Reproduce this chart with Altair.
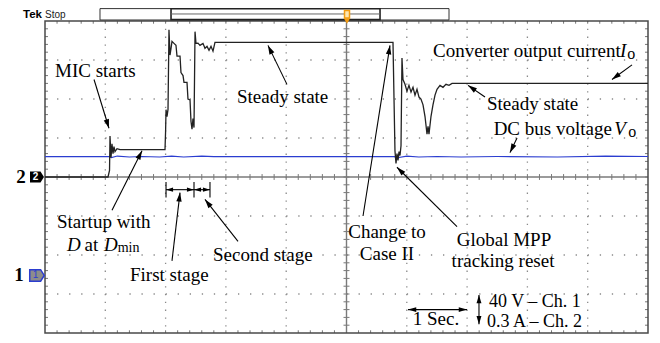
import math
import altair as alt
import pandas as pd
import numpy as np

# ---------------- traces ----------------
# time since left edge of the screen, seconds (1 s/div)
time_s = [0.000, 1.045, 1.070, 1.078, 1.095, 1.111, 1.128, 1.144, 1.161, 1.194,
          1.244, 1.990, 2.000, 2.007, 2.023, 2.040, 2.056, 2.073, 2.090, 2.106,
          2.139, 2.172, 2.189, 2.239, 2.255, 2.289, 2.305, 2.355, 2.371, 2.405,
          2.421, 2.438, 2.454, 2.471, 2.488, 2.504, 2.537, 2.570, 2.620, 2.653,
          2.687, 2.720, 2.753, 2.786, 2.819, 5.771, 5.788, 5.804, 5.821, 5.837,
          5.854, 5.871, 5.887, 5.904, 5.920, 5.937, 5.970, 6.003, 6.036, 6.070,
          6.103, 6.136, 6.169, 6.202, 6.235, 6.269, 6.302, 6.335, 6.352, 6.368,
          6.401, 6.434, 6.468, 6.501, 6.551, 6.600, 6.650, 6.700, 6.750, 10.000]
# converter output current Io, A (channel 2, 0.3 A/div)
current_A = [0, 0, 0.05, 0.315, 0.15, 0.255, 0.18, 0.233, 0.195, 0.218,
             0.21, 0.21, 0.353, 0.518, 0.465, 0.52, 1.133, 0.938, 0.99, 1.043,
             1.028, 1.013, 0.93, 0.93, 0.803, 0.78, 0.728, 0.728, 0.60, 0.593,
             0.428, 0.368, 0.45, 0.38, 1.118, 1.028, 1.03, 1.013, 1.028, 0.99,
             1.005, 0.975, 1.005, 0.968, 1.035, 1.035, 0.6, 0.2, 0.105, 0.18,
             0.128, 0.195, 0.165, 0.24, 0.915, 0.75, 0.713, 0.66, 0.705, 0.653,
             0.69, 0.63, 0.675, 0.615, 0.6, 0.555, 0.465, 0.33, 0.39, 0.33,
             0.465, 0.555, 0.63, 0.675, 0.705, 0.69, 0.713, 0.705, 0.72, 0.72]
# DC bus voltage Vo, V (channel 1, 40 V/div)
volt_time_s = [0, 1.07, 1.10, 1.20, 1.40, 1.60, 1.90, 2.10, 2.30, 2.60, 2.80,
               5.80, 5.83, 5.87, 6.00, 6.20, 6.50, 6.90, 7.50, 8.50, 9.30, 10.0]
voltage_V = [122, 122, 121, 122.5, 121.5, 122, 121.5, 122.5, 121.5, 122.5, 122,
             122, 119, 121, 122.5, 121.5, 122, 121.5, 122, 121.5, 122.5, 122]

AMP_PER_DIV = 0.3
VOLT_PER_DIV = 40
CH1_LEVEL = -2.525   # ground marker of channel 1 (div)
CH2_LEVEL = 0.0      # ground marker of channel 2 (div)

# ---------------- annotations (time s, vertical div) ----------------
ann_left_txt = ["MIC starts", "Steady state", "Startup with", "at", "First stage",
                "Second stage", "Converter output current", "Steady state",
                "DC bus voltage"]
ann_left_t = [0.166, 3.184, 0.199, 0.655, 1.410, 2.786, 6.434, 7.330, 7.440]
ann_left_d = [2.725, 2.05, -1.15, -1.75, -2.5, -2.0, 3.225, 1.875, 1.225]

scale_txt = ["40 V \u2013 Ch. 1", "0.3 A \u2013 Ch. 2"]
scale_t = [7.363, 7.330]
scale_d = [-3.20, -3.72]

ann_mid_txt = ["Change to", "Case II", "Global MPP", "tracking reset", "1 Sec."]
ann_mid_t = [5.672, 5.672, 7.612, 7.596, 6.484]
ann_mid_d = [-1.4, -1.97, -1.625, -2.15, -3.64]

ann_ital_txt = ["D", "D", "I", "V"]
ann_ital_t = [0.365, 0.978, 9.536, 9.440]
ann_ital_d = [-1.75, -1.75, 3.225, 1.225]

ann_sub_txt = ["min", "o", "o"]
ann_sub_t = [1.205, 9.655, 9.672]
ann_sub_d = [-1.82, 3.15, 1.15]
ann_sub_size = [14, 16, 16]

# arrows: start t, start d, tip t, tip d, double-headed, head size
arrows = [
    (0.813, 2.5, 1.061, 1.25, False, 36),
    (4.013, 2.375, 3.698, 3.375, False, 36),
    (1.111, -0.85, 1.609, 0.675, False, 36),
    (2.106, -2.15, 2.239, -0.4, False, 36),
    (3.201, -1.65, 2.653, -0.575, False, 36),
    (9.735, 2.875, 9.403, 2.5, False, 36),
    (7.297, 2.05, 7.015, 2.35, False, 36),
    (7.828, 1.0, 7.711, 0.625, False, 36),
    (5.274, -1.0, 5.721, 3.375, False, 36),
    (6.833, -1.275, 5.837, 0.25, False, 36),
    (6.020, -3.4, 6.998, -3.4, True, 30),
    (7.197, -3.025, 7.197, -3.775, True, 30),
    (2.007, -0.325, 2.471, -0.325, True, 22),
    (2.471, -0.325, 2.736, -0.325, True, 22),
]
stage_tick_t = [2.007, 2.471, 2.736]

# ---------------- geometry ----------------
W, H = 644, 326
PX_X, PX_Y = 60.3, 39.0
X_DOM = [-37 / PX_X, (W - 37) / PX_X]
Y_DOM = [-4.0 - 1 / PX_Y, 4.0 + 13 / PX_Y]

SERIF = "Liberation Serif"
SANS = "Liberation Sans"
BLUE = "#2b3dd0"

xs = alt.Scale(domain=X_DOM, nice=False, zero=False)
ys = alt.Scale(domain=Y_DOM, nice=False, zero=False)


def X(f="t"):
    return alt.X(f"{f}:Q", scale=xs, axis=None)


def Y(f="d"):
    return alt.Y(f"{f}:Q", scale=ys, axis=None)


def rule_layer(df, **kw):
    enc = dict(x=X("t"), y=Y("d"))
    if "t2" in df.columns:
        enc["x2"] = alt.X2("t2:Q")
    if "d2" in df.columns:
        enc["y2"] = alt.Y2("d2:Q")
    return alt.Chart(df).mark_rule(**kw).encode(**enc)


def text_layer(df, **kw):
    enc = dict(x=X("t"), y=Y("d"), text="txt:N")
    if "sz" in df.columns:
        enc["size"] = alt.Size("sz:Q", scale=None)
    return alt.Chart(df).mark_text(**kw).encode(**enc)


def rect_layer(df, **kw):
    return alt.Chart(df).mark_rect(**kw).encode(
        x=X("t"), x2=alt.X2("t2:Q"), y=Y("d"), y2=alt.Y2("d2:Q"))


layers = []

# graticule
grid_v = pd.DataFrame({"t": [1, 2, 3, 4, 6, 7, 8, 9], "d": 4.0, "d2": -4.0})
grid_h = pd.DataFrame({"t": 0.0, "t2": 10.0, "d": [3, 2, 1, -1, -2, -3]})
layers.append(rule_layer(grid_v, color="#8a8a8a", strokeWidth=1.3,
                         strokeDash=[1.3, PX_Y / 5 - 1.3]))
layers.append(rule_layer(grid_h, color="#8a8a8a", strokeWidth=1.3,
                         strokeDash=[1.3, PX_X / 5 - 1.3]))

minor_t = np.round(np.arange(0.2, 10.0, 0.2), 3)
minor_d = np.round(np.arange(-3.8, 4.0, 0.2), 3)
ticks = pd.concat([
    pd.DataFrame({"t": minor_t, "t2": minor_t, "d": 4.0, "d2": 3.93}),
    pd.DataFrame({"t": minor_t, "t2": minor_t, "d": -4.0, "d2": -3.93}),
    pd.DataFrame({"t": minor_t, "t2": minor_t, "d": 0.075, "d2": -0.075}),
    pd.DataFrame({"t": 0.0, "t2": 0.05, "d": minor_d, "d2": minor_d}),
    pd.DataFrame({"t": 10.0, "t2": 9.95, "d": minor_d, "d2": minor_d}),
    pd.DataFrame({"t": 4.95, "t2": 5.05, "d": minor_d, "d2": minor_d}),
])
layers.append(rule_layer(ticks, color="#777777", strokeWidth=1))

axes_c = pd.DataFrame({"t": [5.0, 0.0], "t2": [5.0, 10.0], "d": [4.0, 0.0], "d2": [-4.0, 0.0]})
layers.append(rule_layer(axes_c, color="#7a7a7a", strokeWidth=1.4))

border = pd.DataFrame({"t": [0.0], "t2": [10.0], "d": [-4.0], "d2": [4.0]})
layers.append(rect_layer(border, fillOpacity=0, stroke="#4a4a4a", strokeWidth=1.5))

# traces
vdf = pd.DataFrame({"t": volt_time_s, "v": voltage_V})
vdf["d"] = vdf["v"] / VOLT_PER_DIV + CH1_LEVEL
vdf["i"] = range(len(vdf))
layers.append(alt.Chart(vdf).mark_line(color=BLUE, strokeWidth=1.2).encode(
    x=X("t"), y=Y("d"), order="i:Q"))

cdf = pd.DataFrame({"t": time_s, "a": current_A})
cdf["d"] = cdf["a"] / AMP_PER_DIV + CH2_LEVEL
cdf["i"] = range(len(cdf))
layers.append(alt.Chart(cdf).mark_line(color="#222222", strokeWidth=1.3).encode(
    x=X("t"), y=Y("d"), order="i:Q"))

# arrows
ARROW = "M0,0L-0.9,3L0.9,3Z"


def ang(ta, da, tb, db):
    dx = (tb - ta) * PX_X
    dy = -(db - da) * PX_Y
    return math.degrees(math.atan2(dx, -dy)) % 360


shafts, heads = [], []
for (t1, d1, t2, d2, both, sz) in arrows:
    shafts.append({"t": t1, "d": d1, "t2": t2, "d2": d2})
    heads.append({"t": t2, "d": d2, "ang": ang(t1, d1, t2, d2), "sz": sz})
    if both:
        heads.append({"t": t1, "d": d1, "ang": ang(t2, d2, t1, d1), "sz": sz})
for tt in stage_tick_t:
    shafts.append({"t": tt, "d": -0.125, "t2": tt, "d2": -0.525})
layers.append(rule_layer(pd.DataFrame(shafts), color="black", strokeWidth=1.1))
layers.append(alt.Chart(pd.DataFrame(heads)).mark_point(
    shape=ARROW, filled=True, color="black", opacity=1, strokeWidth=0).encode(
    x=X("t"), y=Y("d"), size=alt.Size("sz:Q", scale=None), angle=alt.Angle("ang:Q", scale=None)))

# annotation texts
layers.append(text_layer(pd.DataFrame({"t": ann_left_t, "d": ann_left_d, "txt": ann_left_txt}),
                         font=SERIF, fontSize=19, align="left", baseline="middle", color="black"))
layers.append(text_layer(pd.DataFrame({"t": scale_t, "d": scale_d, "txt": scale_txt}),
                         font=SERIF, fontSize=18, align="left", baseline="middle", color="black"))
layers.append(text_layer(pd.DataFrame({"t": ann_mid_t, "d": ann_mid_d, "txt": ann_mid_txt}),
                         font=SERIF, fontSize=19, align="center", baseline="middle", color="black"))
layers.append(text_layer(pd.DataFrame({"t": ann_ital_t, "d": ann_ital_d, "txt": ann_ital_txt}),
                         font=SERIF, fontSize=19, fontStyle="italic", align="left",
                         baseline="middle", color="black"))
layers.append(text_layer(pd.DataFrame({"t": ann_sub_t, "d": ann_sub_d, "txt": ann_sub_txt,
                                       "sz": ann_sub_size}),
                         font=SERIF, align="left", baseline="middle", color="black"))

# top status bar
layers.append(rect_layer(pd.DataFrame({"t": [0.912], "t2": [6.700], "d": [4.318], "d2": [4.026]}),
                         fill="white", stroke="#333333", strokeWidth=1))
layers.append(rect_layer(pd.DataFrame({"t": [2.090], "t2": [5.556], "d": [4.313], "d2": [4.036]}),
                         fill="white", stroke="#222222", strokeWidth=1.6))
layers.append(rule_layer(pd.DataFrame({"t": [2.090], "t2": [5.556], "d": [4.18], "d2": [4.18]}),
                         color="#666666", strokeWidth=1))
layers.append(rect_layer(pd.DataFrame({"t": [4.967], "t2": [5.050], "d": [4.27], "d2": [4.08]}),
                         fill="#fde6b0", stroke="#f39c12", strokeWidth=1.5))
layers.append(alt.Chart(pd.DataFrame({"t": [5.008], "d": [4.0]})).mark_point(
    shape="triangle-down", filled=True, color="#f39c12", opacity=1, size=40).encode(x=X("t"), y=Y("d")))
layers.append(text_layer(pd.DataFrame({"t": [-0.365], "d": [4.069], "txt": ["Tek"]}),
                         font=SANS, fontSize=11.5, fontWeight="bold", align="left",
                         baseline="alphabetic", color="black"))
layers.append(text_layer(pd.DataFrame({"t": [0.0], "d": [4.069], "txt": ["Stop"]}),
                         font=SANS, fontSize=10, align="left", baseline="alphabetic", color="#222222"))

# channel markers
MARK = "M-1,-0.8L0.5,-0.8L1,0L0.5,0.8L-1,0.8Z"
layers.append(alt.Chart(pd.DataFrame({"t": [-0.133], "d": [CH2_LEVEL]})).mark_point(
    shape=MARK, filled=True, color="black", opacity=1, size=196).encode(x=X("t"), y=Y("d")))
layers.append(alt.Chart(pd.DataFrame({"t": [-0.133], "d": [CH1_LEVEL]})).mark_point(
    shape=MARK, filled=True, fill="#8c8c8c", stroke=BLUE, strokeWidth=1.5, opacity=1,
    size=210).encode(x=X("t"), y=Y("d")))
layers.append(text_layer(pd.DataFrame({"t": [-0.155], "d": [CH2_LEVEL], "txt": ["2"]}),
                         font=SANS, fontSize=10, fontWeight="bold", align="center",
                         baseline="middle", color="white"))
layers.append(text_layer(pd.DataFrame({"t": [-0.155], "d": [CH1_LEVEL], "txt": ["1"]}),
                         font=SANS, fontSize=10, align="center", baseline="middle", color=BLUE))
layers.append(text_layer(pd.DataFrame({"t": [-0.398, -0.431], "d": [CH2_LEVEL, CH1_LEVEL],
                                       "txt": ["2", "1"]}),
                         font=SERIF, fontSize=19, fontWeight="bold", align="center",
                         baseline="middle", color="black"))

chart = alt.layer(*layers).properties(
    width=W, height=H, padding=0, autosize=alt.AutoSizeParams(type="none"),
    background="white",
).configure_view(strokeWidth=0)

chart.save("out.html", embed_options={"renderer": "svg", "actions": False})
